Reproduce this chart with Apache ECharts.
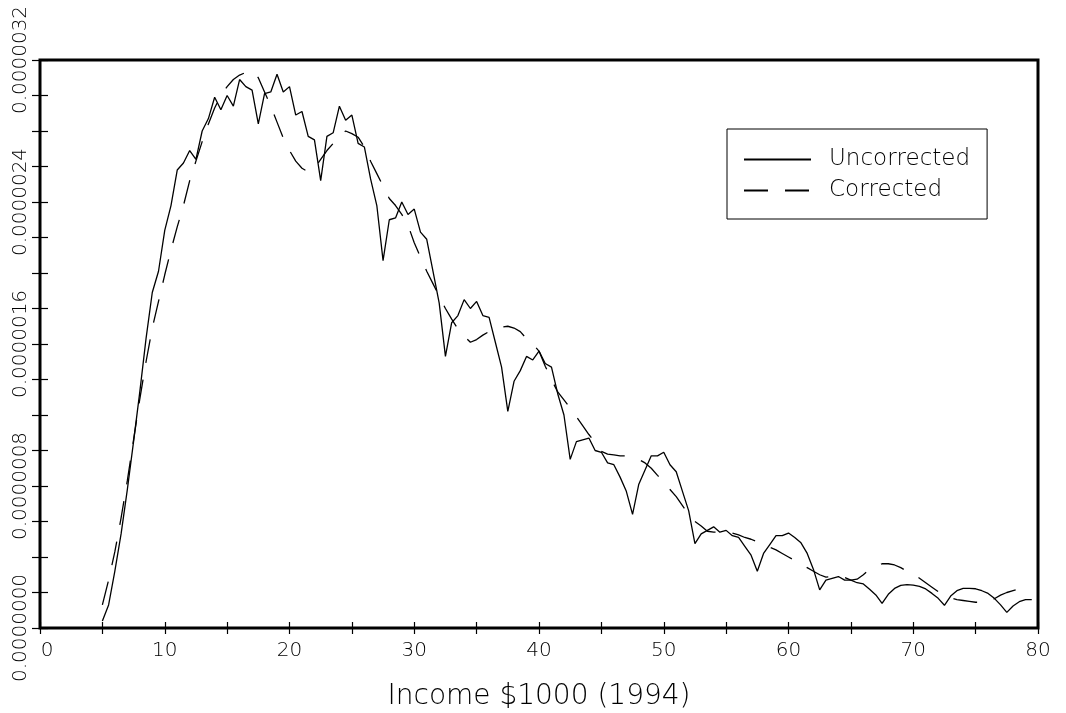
<!DOCTYPE html>
<html><head><meta charset="utf-8">
<script src="https://cdn.jsdelivr.net/npm/echarts@6/dist/echarts.min.js"></script>
<style>html,body{margin:0;padding:0;background:#fff}#c{width:1066px;height:713px}</style>
</head><body><div id="c"></div>
<script>
// Income grid ($1000, 1994)
const income = [
  5,5.5,6,6.5,7,7.5,8,8.5,9,9.5,10,10.5,11,11.5,12,12.5,13,13.5,14,14.5,
  15,15.5,16,16.5,17,17.5,18,18.5,19,19.5,20,20.5,21,21.5,22,22.5,23,23.5,24,24.5,
  25,25.5,26,26.5,27,27.5,28,28.5,29,29.5,30,30.5,31,31.5,32,32.5,33,33.5,34,34.5,
  35,35.5,36,36.5,37,37.5,38,38.5,39,39.5,40,40.5,41,41.5,42,42.5,43,43.5,44,44.5,
  45,45.5,46,46.5,47,47.5,48,48.5,49,49.5,50,50.5,51,51.5,52,52.5,53,53.5,54,54.5,
  55,55.5,56,56.5,57,57.5,58,58.5,59,59.5,60,60.5,61,61.5,62,62.5,63,63.5,64,64.5,
  65,65.5,66,66.5,67,67.5,68,68.5,69,69.5,70,70.5,71,71.5,72,72.5,73,73.5,74,74.5,
  75,75.5,76,76.5,77,77.5,78,78.5,79,79.5
];
// Densities in units of 1e-6
const uncorrected = [
  0.4,1.3,3.2,5.3,7.8,10.5,13.3,16.3,18.9,20.1,22.4,23.8,25.8,26.2,26.9,26.4,28.0,28.7,29.9,29.2,
  30.0,29.4,30.9,30.5,30.3,28.4,30.1,30.2,31.2,30.2,30.5,28.9,29.1,27.7,27.5,25.2,27.7,27.9,29.4,28.6,
  28.9,27.3,27.1,25.3,23.8,20.7,23.0,23.1,24.0,23.3,23.6,22.3,21.9,20.1,18.3,15.3,17.2,17.6,18.5,18.0,
  18.4,17.6,17.5,16.1,14.7,12.2,13.9,14.5,15.3,15.1,15.6,14.9,14.7,13.2,12.0,9.5,10.5,10.6,10.7,10.0,
  9.9,9.3,9.2,8.5,7.7,6.4,8.1,8.9,9.7,9.7,9.9,9.2,8.8,7.7,6.6,4.75,5.3,5.5,5.7,5.4,
  5.5,5.2,5.1,4.6,4.1,3.2,4.2,4.7,5.2,5.2,5.35,5.1,4.8,4.2,3.3,2.15,2.7,2.8,2.9,2.7,
  2.7,2.55,2.48,2.18,1.86,1.39,1.9,2.23,2.4,2.44,2.42,2.35,2.2,1.95,1.67,1.28,1.8,2.1,2.23,2.23,
  2.21,2.1,1.95,1.67,1.3,0.88,1.24,1.48,1.6,1.6
];
const corrected = [
  1.3,2.7,4.3,6.2,8.3,10.6,12.9,15.0,16.9,18.4,19.9,21.3,22.6,23.8,25.2,26.3,27.4,28.4,29.3,30.0,
  30.5,30.9,31.15,31.3,31.4,31.0,30.2,29.4,28.5,27.6,26.9,26.3,25.9,25.7,25.9,26.4,26.9,27.3,27.7,28.0,
  27.85,27.65,27.1,26.3,25.6,24.9,24.2,23.8,23.3,22.7,21.7,20.9,20.1,19.4,18.7,18.0,17.4,16.85,16.45,16.1,
  16.25,16.5,16.7,16.85,16.95,17.0,16.9,16.7,16.3,16.0,15.6,14.75,14.0,13.3,12.85,12.4,11.9,11.4,10.9,10.45,
  9.95,9.8,9.75,9.7,9.7,9.6,9.5,9.3,9.0,8.6,8.25,7.8,7.4,6.9,6.4,6.0,5.75,5.45,5.4,5.4,
  5.4,5.35,5.25,5.1,5.0,4.85,4.7,4.55,4.4,4.2,4.0,3.8,3.6,3.4,3.2,3.0,2.87,2.9,2.93,2.85,
  2.7,2.75,3.0,3.3,3.45,3.62,3.62,3.55,3.4,3.2,3.05,2.8,2.55,2.3,2.05,1.85,1.7,1.6,1.55,1.5,
  1.45,1.45,1.5,1.65,1.85,2.0,2.1,2.2,2.3,2.35
];
const seriesNames = ['Uncorrected', 'Corrected'];
const xTickLabels = ['0','10','20','30','40','50','60','70','80'];
const yTickLabels = ['0.0000000','0.0000008','0.0000016','0.0000024','0.0000032'];
const xAxisTitle = 'Income $1000 (1994)';
const UNIT = 1e-6;

const FONT = 'DejaVu Sans';
const chart = echarts.init(document.getElementById('c'), null, {renderer: 'canvas'});

function pairs(vals) { return income.map((x, i) => [x, vals[i] * UNIT]); }
function xLabel(v) {
  const s = String(Math.round(v));
  if (xTickLabels.indexOf(s) < 0) return '';
  return s === xTickLabels[0] ? '{first|' + s + '}' : s;
}
function yLabel(v) {
  const k = Math.round(v / UNIT);
  return (k % 8 === 0 && yTickLabels[k / 8] !== undefined) ? yTickLabels[k / 8] : '';
}

const tickX = {show: true, inside: true, length: 6, lineStyle: {color: '#000', width: 1.2}};
const tickY = {show: true, inside: true, length: 8, lineStyle: {color: '#000', width: 1.2}};

chart.setOption({
  animation: false,
  backgroundColor: '#fff',
  grid: {left: 40, right: 28, top: 60, bottom: 85, show: true, borderColor: '#000', borderWidth: 3,
         backgroundColor: 'transparent', containLabel: false, outerBoundsMode: 'none'},
  legend: {
    orient: 'vertical', left: 727, top: 129,
    padding: [19, 17, 17, 16], itemGap: 8, itemWidth: 67, itemHeight: 14,
    borderColor: '#000', borderWidth: 1, backgroundColor: '#fff',
    itemStyle: {opacity: 0},
    textStyle: {fontFamily: FONT, fontWeight: 200, fontSize: 23, color: '#000', padding: [0, 0, 0, 13]},
    data: seriesNames
  },
  xAxis: [
    {type: 'value', position: 'bottom', min: 0, max: 80, interval: 5,
     axisLine: {show: false}, axisTick: tickX, splitLine: {show: false},
     axisLabel: {show: true, formatter: xLabel, margin: 13, fontFamily: FONT, fontWeight: 200, fontSize: 20, color: '#000', showMinLabel: true, showMaxLabel: true,
       rich: {first: {fontFamily: FONT, fontWeight: 200, fontSize: 20, color: '#000', padding: [0, 0, 0, 14]}}},
     name: xAxisTitle, nameLocation: 'middle', nameGap: 55,
     nameTextStyle: {fontFamily: FONT, fontWeight: 200, fontSize: 28, color: '#000'}},
    {type: 'value', position: 'top', min: 0, max: 80, interval: 5,
     axisLine: {show: false}, axisTick: tickX, splitLine: {show: false}, axisLabel: {show: false}}
  ],
  yAxis: [
    {type: 'value', position: 'left', min: 0, max: 32 * UNIT, interval: 2 * UNIT,
     axisLine: {show: false}, axisTick: tickY, splitLine: {show: false},
     axisLabel: {show: true, formatter: yLabel, rotate: 90, margin: 9, fontFamily: FONT, fontWeight: 200, fontSize: 20, color: '#000', showMinLabel: true, showMaxLabel: true}},
    {type: 'value', position: 'right', min: 0, max: 32 * UNIT, interval: 2 * UNIT,
     axisLine: {show: false}, axisTick: tickY, splitLine: {show: false}, axisLabel: {show: false}}
  ],
  series: [
    {name: seriesNames[0], type: 'line', data: pairs(uncorrected), symbol: 'none', showSymbol: false,
     lineStyle: {color: '#000', width: 1.3, type: 'solid'}, itemStyle: {color: '#000'}},
    {name: seriesNames[1], type: 'line', data: pairs(corrected), symbol: 'none', showSymbol: false,
     lineStyle: {color: '#000', width: 1.3, type: [24, 17]}, itemStyle: {color: '#000'}}
  ]
});
</script></body></html>
